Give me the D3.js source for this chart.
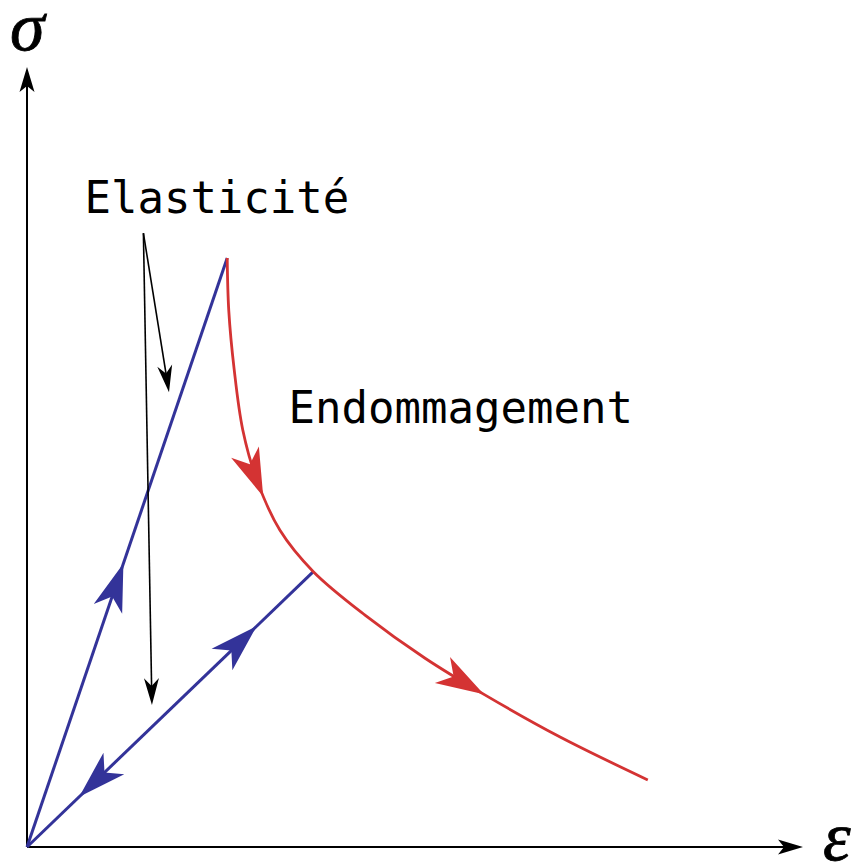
<!DOCTYPE html>
<html>
<head>
<meta charset="utf-8">
<script src="https://cdn.jsdelivr.net/npm/d3@7"></script>
<style>
  html, body { margin: 0; padding: 0; background: #fff; }
  svg { display: block; }
  .label { font-family: "DejaVu Sans Mono", monospace; font-size: 44px; fill: #000; }
  .sym { font-family: "Liberation Serif", "DejaVu Serif", serif; font-style: italic; font-size: 70px; fill: #000; stroke: #000; stroke-width: 0.8px; }
</style>
</head>
<body>
<div id="chart"></div>
<script>
// Schematic stress-strain curve (data units 0..100 on both axes)
const origin = [0, 0];
const peak = [25.8, 75.5];          // end of elastic loading
const unloadPoint = [36.9, 35.3];   // point on damage curve where unloading starts

// Damage (softening) branch, strain / stress
const damageStrain = [25.8, 26.0, 26.7, 27.8, 29.6, 32.6, 36.9, 43.6, 51.3, 59.0, 68.7, 80.0];
const damageStress = [75.5, 68.8, 61.2, 53.5, 47.1, 40.6, 35.3, 29.7, 24.2, 19.5, 14.1, 8.6];

// Direction arrows: which path, tip location, and whether it points against the path
const arrowPath = ['load', 'unload', 'unload', 'damage', 'damage'];
const arrowTipX = [12.2, 29.4, 6.8, 30.3, 58.8];
const arrowTipY = [36.4, 28.5, 6.4, 44.9, 19.5];
const arrowReverse = [false, false, true, false, false];

// Annotation "Elasticité" pointing at both elastic lines
const annotFrom = [15.0, 78.7];
const annotToX = [18.3, 16.1];
const annotToY = [58.3, 18.2];

const labels = ['Elasticité', 'Endommagement'];
const labelX = [7.4, 33.7];
const labelY = [81.3, 54.4];

const BLUE = '#333399';
const RED = '#d43333';

const width = 856;
const height = 864;

const x = d3.scaleLinear().domain([0, 100]).range([27, 803]);
const y = d3.scaleLinear().domain([0, 100]).range([847, 67]);

const svg = d3.select('#chart').append('svg')
  .attr('width', width)
  .attr('height', height);

const line = d3.line().x(d => x(d[0])).y(d => y(d[1]));
const curve = d3.line().x(d => x(d[0])).y(d => y(d[1])).curve(d3.curveCatmullRom.alpha(0.5));

// arrow head shapes, tip at (0,0) pointing along +x
function head(len, w, notch) {
  return `M0,0 L${-len},${-w / 2} L${-notch},0 L${-len},${w / 2} Z`;
}

// Axes
svg.append('line')
  .attr('x1', x(0)).attr('y1', y(0))
  .attr('x2', x(0)).attr('y2', y(100) + 15)
  .attr('stroke', '#000').attr('stroke-width', 2);
svg.append('line')
  .attr('x1', x(0)).attr('y1', y(0))
  .attr('x2', x(100) - 15).attr('y2', y(0))
  .attr('stroke', '#000').attr('stroke-width', 2);
svg.append('path')
  .attr('d', head(25, 15, 19))
  .attr('transform', `translate(${x(0)},${y(100)}) rotate(-90)`);
svg.append('path')
  .attr('d', head(25, 15, 19))
  .attr('transform', `translate(${x(100)},${y(0)})`);

svg.append('text').attr('class', 'sym')
  .attr('x', 10).attr('y', 50)
  .text('σ');
svg.append('text').attr('class', 'sym')
  .attr('x', 823).attr('y', 860)
  .text('ε');

// Curves
const paths = {};
paths.load = svg.append('path')
  .attr('d', line([origin, peak]))
  .attr('fill', 'none').attr('stroke', BLUE).attr('stroke-width', 3);
paths.unload = svg.append('path')
  .attr('d', line([origin, unloadPoint]))
  .attr('fill', 'none').attr('stroke', BLUE).attr('stroke-width', 3);
paths.damage = svg.append('path')
  .attr('d', curve(d3.zip(damageStrain, damageStress)))
  .attr('fill', 'none').attr('stroke', RED).attr('stroke-width', 2.8);

const pathColor = { load: BLUE, unload: BLUE, damage: RED };

// Place each arrow on its path at the sample closest to the tip, oriented along the tangent
arrowPath.forEach((name, i) => {
  const node = paths[name].node();
  const total = node.getTotalLength();
  const tx = x(arrowTipX[i]);
  const ty = y(arrowTipY[i]);
  let best = 0;
  let bestD = Infinity;
  for (let s = 0; s <= total; s += 0.5) {
    const p = node.getPointAtLength(s);
    const d = (p.x - tx) ** 2 + (p.y - ty) ** 2;
    if (d < bestD) { bestD = d; best = s; }
  }
  const p = node.getPointAtLength(best);
  const a = node.getPointAtLength(Math.max(0, best - 4));
  const b = node.getPointAtLength(Math.min(total, best + 4));
  let ang = Math.atan2(b.y - a.y, b.x - a.x) * 180 / Math.PI;
  if (arrowReverse[i]) ang += 180;
  svg.append('path')
    .attr('d', head(48, 30, 35))
    .attr('fill', pathColor[name])
    .attr('transform', `translate(${p.x},${p.y}) rotate(${ang})`);
});

// Annotation arrows
annotToX.forEach((tx, i) => {
  const x0 = x(annotFrom[0]);
  const y0 = y(annotFrom[1]);
  const x1 = x(tx);
  const y1 = y(annotToY[i]);
  const ang = Math.atan2(y1 - y0, x1 - x0);
  svg.append('line')
    .attr('x1', x0).attr('y1', y0)
    .attr('x2', x1 - Math.cos(ang) * 15).attr('y2', y1 - Math.sin(ang) * 15)
    .attr('stroke', '#000').attr('stroke-width', 1.6);
  svg.append('path')
    .attr('d', head(27, 15, 19))
    .attr('transform', `translate(${x1},${y1}) rotate(${ang * 180 / Math.PI})`);
});

// Labels
svg.selectAll('text.label')
  .data(labels)
  .enter().append('text')
  .attr('class', 'label')
  .attr('x', (d, i) => x(labelX[i]))
  .attr('y', (d, i) => y(labelY[i]))
  .text(d => d);
</script>
</body>
</html>
